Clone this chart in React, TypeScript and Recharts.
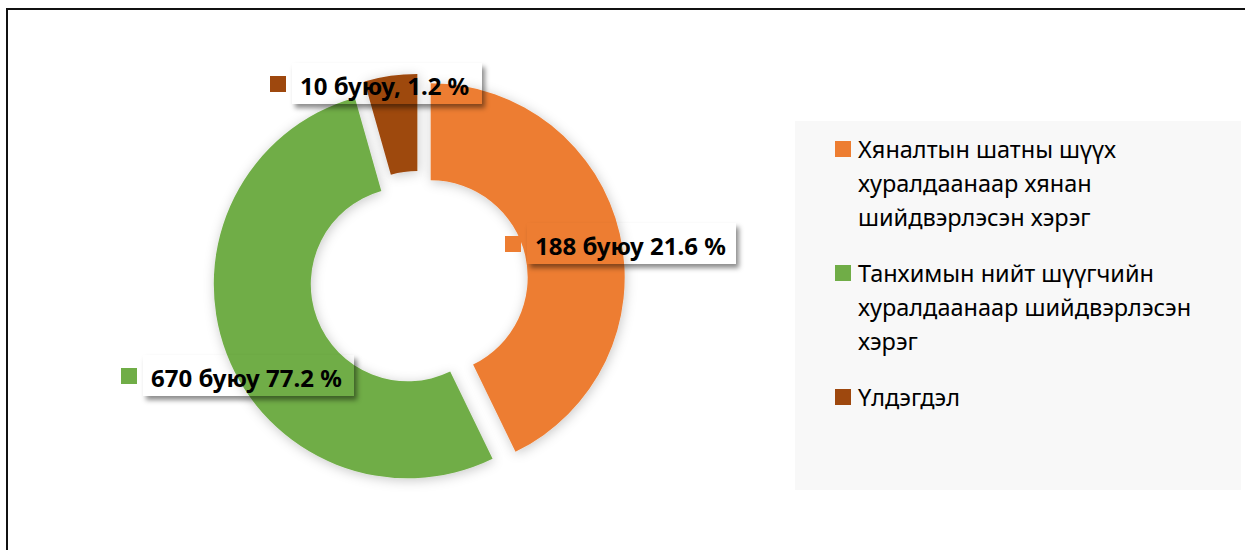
import React from 'react';
import { PieChart, Pie, Cell, Sector, Legend } from 'recharts';

const categories = [
  'Хяналтын шатны шүүх хуралдаанаар хянан шийдвэрлэсэн хэрэг',
  'Танхимын нийт шүүгчийн хуралдаанаар шийдвэрлэсэн хэрэг',
  'Үлдэгдэл',
];
// legend wrapping as in the original
const legendLines = [
  ['Хяналтын шатны шүүх', 'хуралдаанаар хянан', 'шийдвэрлэсэн хэрэг'],
  ['Танхимын нийт шүүгчийн', 'хуралдаанаар шийдвэрлэсэн', 'хэрэг'],
  ['Үлдэгдэл'],
];
const caseCounts = [188, 670, 10];
const percents = [21.6, 77.2, 1.2];
const labelSeps = ['', '', ','];
// ring sizes as they are drawn (the slices don't follow the printed percents)
const drawnShares = [42.8, 52.8, 4.4];
const colors = ['#ED7D31', '#70AD47', '#9E480E'];

const data = categories.map((name, i) => ({ name, share: drawnShares[i] }));
const dataLabels = caseCounts.map((c, i) => `${c} буюу${labelSeps[i]} ${percents[i]} %`);

const CX = 419;
const CY = 280;
const EXPLODE = 12;
const RAD = Math.PI / 180;

// data label placement, relative to the pie centre
const labelPlace = [
  { dx: 86, dy: -36, w: 209 },
  { dx: -298, dy: 96, w: 211 },
  { dx: -149, dy: -196, w: 190 },
];

const renderSlice = (p: any) => {
  const mid = p.midAngle * RAD;
  return (
    <g filter="url(#sliceShadow)">
      <Sector
        cx={p.cx + Math.cos(mid) * EXPLODE}
        cy={p.cy - Math.sin(mid) * EXPLODE}
        innerRadius={p.innerRadius}
        outerRadius={p.outerRadius}
        startAngle={p.startAngle}
        endAngle={p.endAngle}
        fill={colors[p.index]}
      />
    </g>
  );
};

const renderLabel = (p: any) => {
  const pl = labelPlace[p.index];
  const mx = p.cx + pl.dx;
  const my = p.cy + pl.dy;
  const bx = mx + 22;
  const by = my - 21;
  const bh = 41;
  const id = `lblMask${p.index}`;
  return (
    <g>
      <mask id={id} maskUnits="userSpaceOnUse" x={bx - 30} y={by - 30} width={pl.w + 60} height={bh + 60}>
        <rect x={bx - 30} y={by - 30} width={pl.w + 60} height={bh + 60} fill="#fff" />
        <rect x={bx} y={by} width={pl.w} height={bh} fill="#000" />
      </mask>
      <rect x={bx + 3} y={by + 4} width={pl.w} height={bh} fill="#000" fillOpacity={0.45}
        filter="url(#boxBlur)" mask={`url(#${id})`} />
      <rect x={mx} y={my - 8} width={16} height={16} fill={colors[p.index]} />
      <text x={mx + 30} y={my + 1} dominantBaseline="central" fontFamily="'Noto Sans', sans-serif"
        fontWeight="bold" fontSize={24} fill="#000">
        {dataLabels[p.index]}
      </text>
    </g>
  );
};

const renderLegend = () => (
  <div style={{ width: '100%', height: '100%', background: '#f8f8f8', boxSizing: 'border-box', padding: '11px 0 0 40px',
    fontFamily: "'Noto Sans', sans-serif", fontSize: 23.5, lineHeight: '34px', color: '#000' }}>
    {legendLines.map((lines, i) => (
      <div key={i} style={{ position: 'relative', paddingLeft: 23, marginBottom: 22 }}>
        <span style={{ position: 'absolute', left: 0, top: 9, width: 16, height: 16, background: colors[i] }} />
        {lines.map((l, j) => <div key={j} style={{ whiteSpace: 'nowrap' }}>{l}</div>)}
      </div>
    ))}
  </div>
);

export default function App() {
  return (
    <div style={{ position: 'absolute', left: 0, top: 0, width: 1245, height: 550, background: '#fff' }}>
      <svg width={0} height={0} style={{ position: 'absolute' }}>
        <defs>
          <filter id="sliceShadow" x="-20%" y="-20%" width="140%" height="140%">
            <feDropShadow dx={1} dy={2} stdDeviation={6} floodColor="#000" floodOpacity={0.22} />
          </filter>
          <filter id="boxBlur" x="-20%" y="-60%" width="140%" height="220%">
            <feGaussianBlur stdDeviation={2.5} />
          </filter>
        </defs>
      </svg>
      <PieChart width={1245} height={550} margin={{ top: 0, right: 0, bottom: 0, left: 0 }}>
        <Pie data={data} dataKey="share" nameKey="name" cx={CX} cy={CY} innerRadius={97} outerRadius={194}
          startAngle={90} endAngle={-270} stroke="none" label={renderSlice} labelLine={false} isAnimationActive={false}>
          {data.map((d, i) => <Cell key={i} fill={colors[i]} fillOpacity={0} />)}
        </Pie>
        <Pie data={data} dataKey="share" nameKey="name" cx={CX} cy={CY} innerRadius={97} outerRadius={194}
          startAngle={90} endAngle={-270} stroke="none" label={renderLabel} labelLine={false} isAnimationActive={false}>
          {data.map((d, i) => <Cell key={i} fill={colors[i]} fillOpacity={0} />)}
        </Pie>
        <Legend layout="vertical" align="right" verticalAlign="top" content={renderLegend}
          wrapperStyle={{ left: 795, top: 121, right: 'auto', width: 446, height: 369 }} />
      </PieChart>
      <div style={{ position: 'absolute', left: 6, top: 8, width: 1239, height: 550 - 8, boxSizing: 'border-box',
        borderTop: '2px solid #111', borderLeft: '2px solid #111', pointerEvents: 'none', zIndex: 5 }} />
    </div>
  );
}
